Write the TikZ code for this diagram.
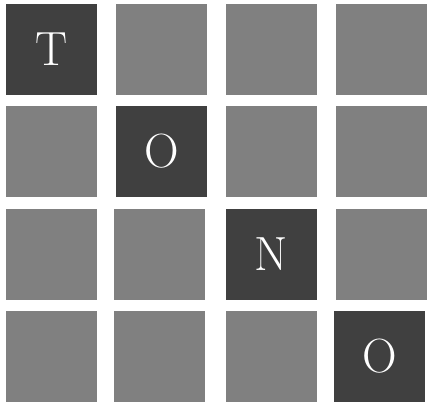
\documentclass[tikz,border=0pt]{standalone}
\usepackage{xcolor}
\usepackage{tikz}
\usetikzlibrary{positioning}
\definecolor{tilegray}{HTML}{808080}
\definecolor{tiledark}{HTML}{404040}

\begin{document}
\begin{tikzpicture}[
  x=1pt, y=-1pt,
  tile/.style={
    rectangle, fill=tilegray, draw=none,
    minimum width=91pt, minimum height=91pt, inner sep=0pt
  },
  letter/.style={
    tile, fill=tiledark, text=white,
    font=\fontsize{48}{48}\selectfont
  },
]
\useasboundingbox (0,0) rectangle (428,405);

% Row 1
\node[letter] (t11) at (51.5,49.5) {T};
\node[tile] (t12) at (161.5,49.5) {};
\node[tile] (t13) at (271.5,49.5) {};
\node[tile] (t14) at (381.5,49.5) {};

% Row 2
\node[tile] (t21) at (51.5,151.5) {};
\node[letter] (t22) at (161.5,151.5) {O};
\node[tile] (t23) at (271.5,151.5) {};
\node[tile] (t24) at (381.5,151.5) {};

% Row 3
\node[tile] (t31) at (51.5,254.5) {};
\node[tile] (t32) at (159.5,254.5) {};
\node[letter] (t33) at (271.5,254.5) {N};
\node[tile] (t34) at (381.5,254.5) {};

% Row 4
\node[tile] (t41) at (51.5,356.5) {};
\node[tile] (t42) at (159.5,356.5) {};
\node[tile] (t43) at (271.5,356.5) {};
\node[letter] (t44) at (379.5,356.5) {O};

\end{tikzpicture}
\end{document}
